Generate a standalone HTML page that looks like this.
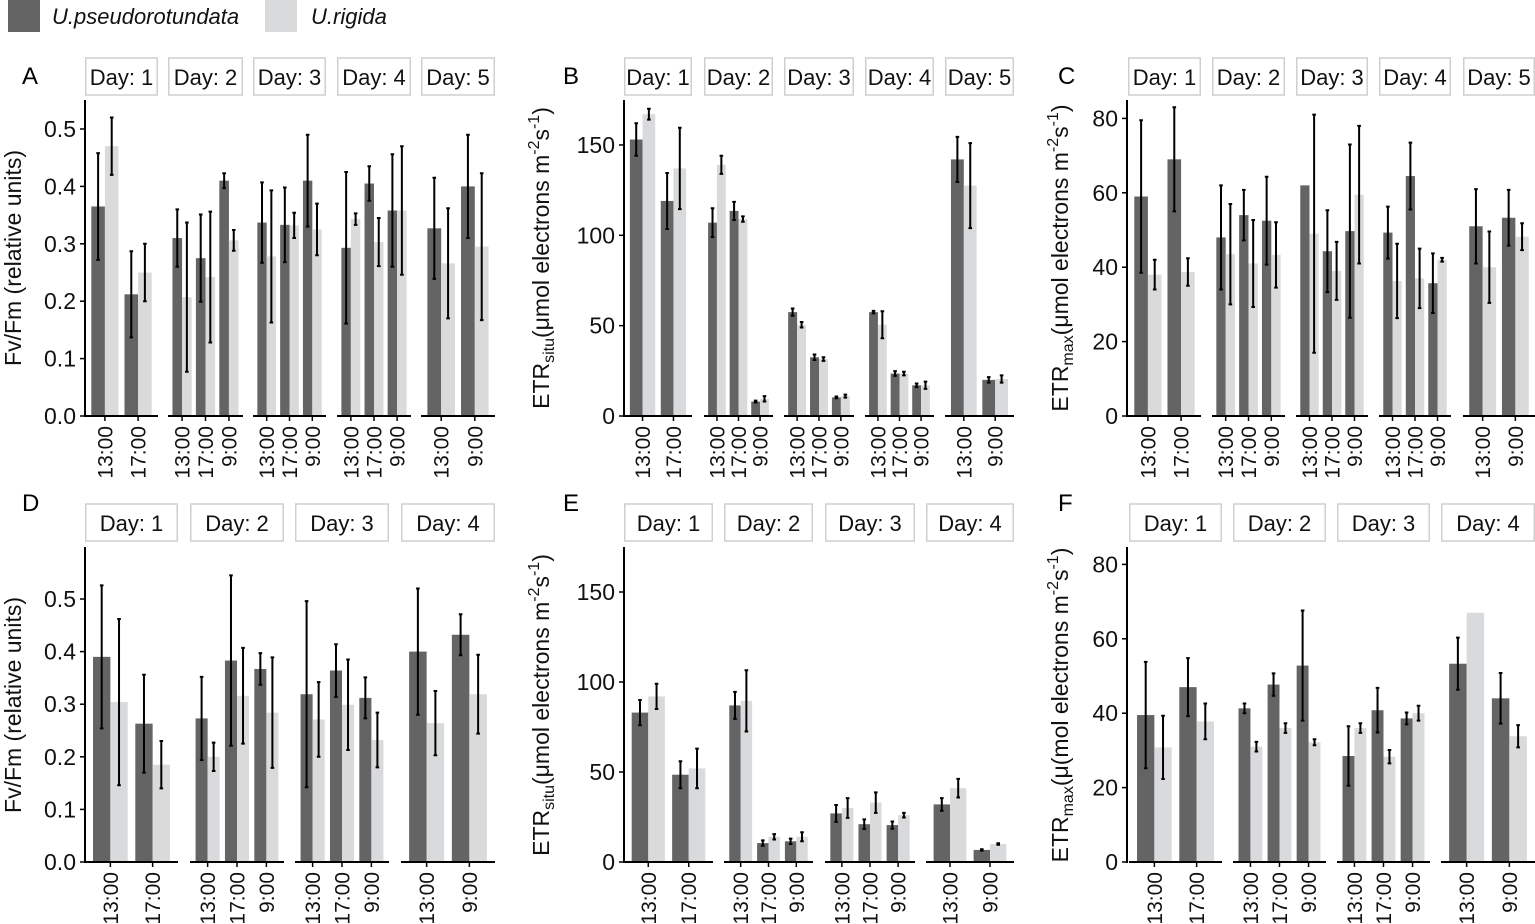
<!DOCTYPE html>
<html><head><meta charset="utf-8">
<style>
html,body{margin:0;padding:0;background:#fff;}
svg{display:block;font-family:"Liberation Sans",sans-serif;}
</style></head>
<body>
<svg id="fig" width="1535" height="924" viewBox="0 0 1535 924" xmlns="http://www.w3.org/2000/svg">
<g>
<rect x="8" y="0" width="32" height="32" fill="#646464"/>
<text x="52" y="24" font-size="22" font-style="italic" fill="#111">U.pseudorotundata</text>
<rect x="265" y="0" width="32" height="32" fill="#d9dadc"/>
<text x="311" y="24" font-size="22" font-style="italic" fill="#111">U.rigida</text>
</g>
</svg>
<script>
// ---- Data ----
const days5 = ["Day: 1","Day: 2","Day: 3","Day: 4","Day: 5"];
const days4 = ["Day: 1","Day: 2","Day: 3","Day: 4"];
const timesTop = [["13:00","17:00"],["13:00","17:00","9:00"],["13:00","17:00","9:00"],["13:00","17:00","9:00"],["13:00","9:00"]];
const timesBot = [["13:00","17:00"],["13:00","17:00","9:00"],["13:00","17:00","9:00"],["13:00","9:00"]];

const A_dark = [[0.365,0.212],[0.31,0.275,0.41],[0.337,0.333,0.41],[0.293,0.405,0.358],[0.327,0.4]];
const A_darkErr = [[0.093,0.075],[0.05,0.076,0.013],[0.07,0.065,0.08],[0.132,0.03,0.098],[0.088,0.09]];
const A_light = [[0.47,0.25],[0.207,0.242,0.306],[0.278,0.332,0.325],[0.343,0.303,0.358],[0.266,0.295]];
const A_lightErr = [[0.05,0.05],[0.13,0.114,0.018],[0.115,0.022,0.045],[0.01,0.042,0.112],[0.096,0.128]];

const B_dark = [[153,119],[107,113.5,8],[57.5,32.5,10.3],[57.5,23.5,17],[142,20]];
const B_darkErr = [[9,15.5],[8,5,0.5],[2,1.5,0.5],[0.7,1.3,1],[12.5,1.5]];
const B_light = [[167,137],[139,109,9.5],[50.5,31.5,11],[50.5,23.5,17],[127.5,20.5]];
const B_lightErr = [[3,22.5],[5,1.5,1.5],[1.5,1,0.8],[7.5,1,2],[23.5,2]];

const C_dark = [[59,69],[48,54,52.5],[62,44.3,49.7],[49.3,64.5,35.7],[51,53.3]];
const C_darkErr = [[20.5,14],[14,6.8,11.8],[0,11,23.3],[7,9,8],[10,7.5]];
const C_light = [[38,38.7],[43.5,41,43.3],[49,39,59.5],[36.3,37,42],[40,48.2]];
const C_lightErr = [[4,3.7],[13.5,11.7,8.8],[32,7.8,18.5],[10,8,0.5],[9.6,3.6]];

const D_dark = [[0.39,0.263],[0.273,0.383,0.367],[0.319,0.364,0.312],[0.4,0.432]];
const D_darkErr = [[0.136,0.093],[0.079,0.162,0.03],[0.177,0.05,0.039],[0.12,0.039]];
const D_light = [[0.304,0.185],[0.2,0.316,0.284],[0.271,0.299,0.232],[0.264,0.319]];
const D_lightErr = [[0.158,0.045],[0.027,0.091,0.105],[0.071,0.086,0.052],[0.061,0.075]];

const E_dark = [[83,48.5],[87,10.5,11.5],[27,21,20.5],[32,6.7]];
const E_darkErr = [[7,7.5],[7.5,1.5,1.5],[4.7,2.7,2],[3.5,0.4]];
const E_light = [[92,52],[89.5,14,14],[30,33,26],[41,10]];
const E_lightErr = [[7,11],[17,1.5,2.5],[5.5,5.7,1.3],[5.2,0.4]];

const F_dark = [[39.5,47],[41.3,47.7,52.8],[28.5,40.8,38.6],[53.3,44]];
const F_darkErr = [[14.3,7.8],[1.3,3,14.8],[8,6,1.6],[7,6.8]];
const F_light = [[30.8,37.8],[31,36,32.2],[36,28.3,40],[67,33.8]];
const F_lightErr = [[8.5,4.8],[1.3,1.3,0.8],[1.3,1.8,2],[0,3]];

const ticksFv = [0,0.1,0.2,0.3,0.4,0.5];
const ticksSitu = [0,50,100,150];
const ticksMax = [0,20,40,60,80];

// ---- Layout ----
const panels = [
 {letter:"A",lx:22,ly:84,axisX:85,top:100,base:416,ppu:574,ticks:ticksFv,dec:1,facets:[[85,158],[168,243],[253,326],[337,411],[421,495]],days:days5,times:timesTop,dark:A_dark,darkErr:A_darkErr,light:A_light,lightErr:A_lightErr,title:"fv",tx:21,ty:258,stripY:58},
 {letter:"B",lx:563,ly:84,axisX:624,top:100,base:416,ppu:1.807,ticks:ticksSitu,dec:0,facets:[[624,692],[704,773],[784,854],[865,934],[945,1014]],days:days5,times:timesTop,dark:B_dark,darkErr:B_darkErr,light:B_light,lightErr:B_lightErr,title:"situ",tx:549,ty:258,stripY:58},
 {letter:"C",lx:1058,ly:84,axisX:1127,top:100,base:416,ppu:3.72,ticks:ticksMax,dec:0,facets:[[1128,1201],[1212,1285],[1296,1368],[1379,1451],[1463,1535]],days:days5,times:timesTop,dark:C_dark,darkErr:C_darkErr,light:C_light,lightErr:C_lightErr,title:"max",tx:1068,ty:258,stripY:58},
 {letter:"D",lx:22,ly:511,axisX:85,top:547,base:862,ppu:526,ticks:ticksFv,dec:1,facets:[[85,178],[190,284],[295,389],[401,495]],days:days4,times:timesBot,dark:D_dark,darkErr:D_darkErr,light:D_light,lightErr:D_lightErr,title:"fv",tx:21,ty:705,stripY:504},
 {letter:"E",lx:563,ly:511,axisX:624,top:547,base:862,ppu:1.8,ticks:ticksSitu,dec:0,facets:[[624,713],[724,813],[825,915],[926,1014]],days:days4,times:timesBot,dark:E_dark,darkErr:E_darkErr,light:E_light,lightErr:E_lightErr,title:"situ",tx:549,ty:705,stripY:504},
 {letter:"F",lx:1058,ly:511,axisX:1127,top:547,base:862,ppu:3.72,ticks:ticksMax,dec:0,facets:[[1129,1222],[1233,1326],[1337,1430],[1441,1535]],days:days4,times:timesBot,dark:F_dark,darkErr:F_darkErr,light:F_light,lightErr:F_lightErr,title:"maxF",tx:1068,ty:705,stripY:504}
];

const NS="http://www.w3.org/2000/svg";
const svg=document.getElementById("fig");
function mk(tag,attrs,parent){const e=document.createElementNS(NS,tag);for(const k in attrs)e.setAttribute(k,attrs[k]);(parent||svg).appendChild(e);return e;}

panels.forEach(p=>{
  const g=mk("g",{});
  
  
  const yS=v=>p.base-v*p.ppu;
  const L=mk("text",{x:p.lx,y:p.ly,"font-size":24,fill:"#000"},g);
  L.textContent=p.letter;
  
  
  const ya=mk("line",{x1:p.axisX,x2:p.axisX,y1:p.top,y2:p.base+1,stroke:"#000","stroke-width":2},g);
  
  
  p.ticks.forEach(t=>{
    const y=yS(t);
    mk("line",{x1:p.axisX-5,x2:p.axisX,y1:y,y2:y,stroke:"#000","stroke-width":1.5},g);
    const tl=mk("text",{x:p.axisX-9,y:y+8,"font-size":23,"text-anchor":"end",fill:"#111"},g);
    tl.textContent=t.toFixed(p.dec);
    
    
  });
  const tt=mk("text",{transform:`translate(${p.tx},${p.ty}) rotate(-90)`,"font-size":23,"text-anchor":"middle",fill:"#111"},g);
  
  
  if(p.title==="fv"){tt.textContent="Fv/Fm (relative units)";}
  else{
    const sub=p.title==="situ"?"situ":"max";
    const mid=p.title==="maxF"?"(\u03bc(mol electrons m":"(\u03bcmol electrons m";
    tt.innerHTML=`ETR<tspan font-size="16" dy="5">${sub}</tspan><tspan dy="-5">${mid}</tspan><tspan font-size="16" dy="-10">-2</tspan><tspan dy="10">s</tspan><tspan font-size="16" dy="-10">-1</tspan><tspan dy="10">)</tspan>`;
  }
  p.facets.forEach((f,fi)=>{
    const [l,r]=f,W=r-l,times=p.times[fi],n=times.length,unit=W/(n+0.2);
    const fg=mk("g",{},g);
    
    
    const sr=mk("rect",{x:l+0.75,y:p.stripY,width:W-1.5,height:37,fill:"#fff",stroke:"#cfcfcf","stroke-width":1.5},fg);
    
    
    const st=mk("text",{x:(l+r)/2,y:p.stripY+27,"font-size":22,"text-anchor":"middle",fill:"#111"},fg);
    st.textContent=p.days[fi];
    
    
    const bw=0.41*unit;
    times.forEach((tm,i)=>{
      const c=l+unit*(0.6+i);
      const series=[[p.dark[fi][i],p.darkErr[fi][i],c-bw,"#646464","bar-pseudorotundata"],[p.light[fi][i],p.lightErr[fi][i],c,"#d9dadc","bar-rigida"]];
      series.forEach(s=>{
        const [v,e,x0,col,nm]=s;
        const b=mk("rect",{x:x0,y:yS(v),width:bw,height:p.base-yS(v),fill:col},fg);
        
        
        if(e>0){
          const cx=x0+bw/2,y1=yS(v+e),y2=yS(v-e);
          const eb=mk("path",{d:`M${cx},${y1}V${y2}M${cx-1.8},${y1}H${cx+1.8}M${cx-1.8},${y2}H${cx+1.8}`,stroke:"#000","stroke-width":2,fill:"none"},fg);
          
          
        }
      });
      mk("line",{x1:c,x2:c,y1:p.base,y2:p.base+5,stroke:"#000","stroke-width":1.5},fg);
      const xl=mk("text",{transform:`translate(${c+7.5},${p.base+10}) rotate(-90)`,"font-size":21,"text-anchor":"end",fill:"#111"},fg);
      xl.textContent=tm;
      
      
    });
    const xa=mk("line",{x1:l,x2:r,y1:p.base,y2:p.base,stroke:"#000","stroke-width":2},fg);
    
    
  });
});
</script>
</body></html>
